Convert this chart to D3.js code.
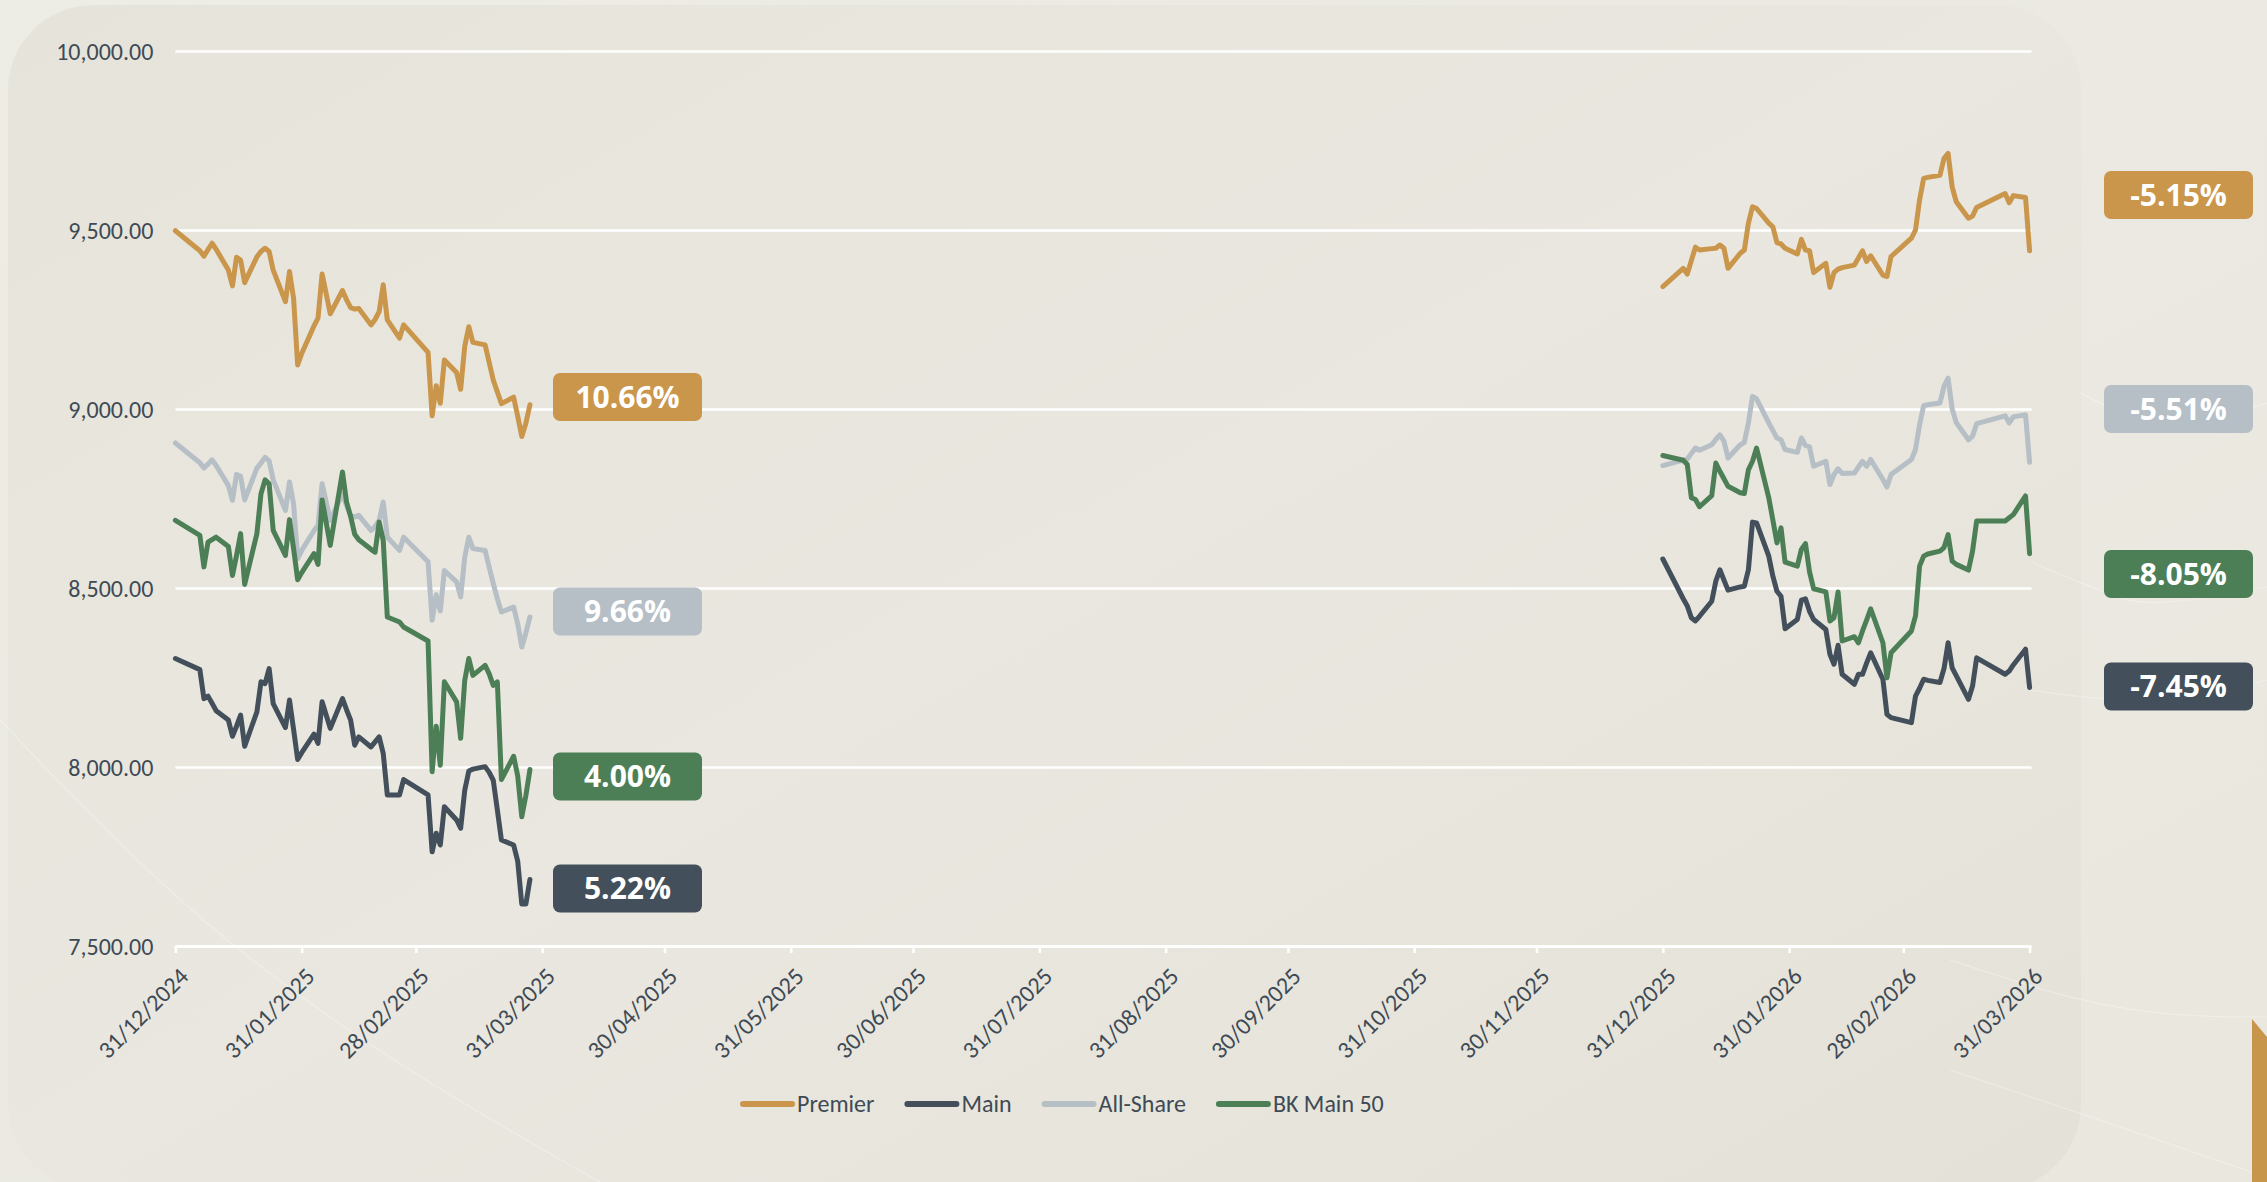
<!DOCTYPE html>
<html>
<head>
<meta charset="utf-8">
<script src="https://cdn.jsdelivr.net/npm/d3@7"></script>
<style>
html,body{margin:0;padding:0;background:#ecebe4;overflow:hidden;}
svg{display:block;}
</style>
</head>
<body>
<svg id="chart" width="2267" height="1182"></svg>
<script>
// ---------------- DATA ----------------
const seriesNames = ["Premier", "Main", "All-Share", "BK Main 50"];
const yTickValues = [7500, 8000, 8500, 9000, 9500, 10000];
const xTickDates = ["2024-12-31","2025-01-31","2025-02-28","2025-03-31","2025-04-30","2025-05-31","2025-06-30","2025-07-31","2025-08-31","2025-09-30","2025-10-31","2025-11-30","2025-12-31","2026-01-31","2026-02-28","2026-03-31"];

const dates2025 = ["2024-12-31","2025-01-06","2025-01-07","2025-01-08","2025-01-09","2025-01-10","2025-01-13","2025-01-14","2025-01-15","2025-01-16","2025-01-17","2025-01-20","2025-01-21","2025-01-22","2025-01-23","2025-01-24","2025-01-27","2025-01-28","2025-01-29","2025-01-30","2025-01-31","2025-02-03","2025-02-04","2025-02-05","2025-02-06","2025-02-07","2025-02-10","2025-02-11","2025-02-12","2025-02-13","2025-02-14","2025-02-17","2025-02-18","2025-02-19","2025-02-20","2025-02-21","2025-02-24","2025-02-25","2025-03-03","2025-03-04","2025-03-05","2025-03-06","2025-03-07","2025-03-10","2025-03-11","2025-03-12","2025-03-13","2025-03-14","2025-03-17","2025-03-18","2025-03-19","2025-03-20","2025-03-21","2025-03-24","2025-03-25","2025-03-26","2025-03-27","2025-03-28"];
const premier2025 = [9498,9442,9427,9445,9463,9446,9388,9344,9424,9416,9353,9425,9440,9449,9440,9388,9300,9384,9309,9123,9155,9232,9254,9377,9322,9266,9331,9305,9283,9279,9281,9235,9250,9272,9347,9249,9198,9235,9158,8981,9065,9016,9137,9102,9055,9175,9230,9186,9179,9130,9081,9048,9015,9033,8980,8923,8960,9012];
const main2025 = [8303,8272,8191,8198,8178,8157,8131,8086,8114,8145,8058,8154,8238,8233,8275,8177,8110,8187,8105,8021,8040,8092,8066,8182,8145,8108,8191,8160,8131,8061,8084,8056,8070,8084,8038,7922,7922,7965,7922,7763,7815,7782,7889,7852,7829,7935,7989,7994,8001,7985,7963,7880,7796,7782,7737,7617,7617,7686];
const allShare2025 = [8905,8850,8835,8846,8858,8842,8786,8745,8817,8812,8746,8835,8849,8865,8855,8802,8717,8796,8735,8582,8605,8660,8675,8791,8740,8689,8763,8730,8702,8698,8703,8661,8672,8689,8740,8642,8605,8642,8573,8410,8481,8436,8549,8517,8475,8586,8642,8610,8605,8558,8512,8470,8433,8447,8400,8335,8375,8419];
const bkMain2025 = [8689,8647,8559,8628,8635,8642,8616,8535,8591,8652,8510,8652,8763,8802,8791,8661,8591,8691,8610,8523,8543,8596,8566,8746,8683,8619,8824,8740,8700,8650,8635,8608,8600,8684,8633,8419,8405,8391,8352,7987,8114,8005,8238,8182,8080,8242,8303,8256,8284,8260,8228,8238,7965,8030,7975,7861,7920,7993];

const dates2026 = ["2025-12-31","2026-01-05","2026-01-06","2026-01-07","2026-01-08","2026-01-09","2026-01-12","2026-01-13","2026-01-14","2026-01-15","2026-01-16","2026-01-19","2026-01-20","2026-01-21","2026-01-22","2026-01-23","2026-01-26","2026-01-27","2026-01-28","2026-01-29","2026-01-30","2026-02-02","2026-02-03","2026-02-04","2026-02-05","2026-02-06","2026-02-09","2026-02-10","2026-02-11","2026-02-12","2026-02-13","2026-02-16","2026-02-17","2026-02-18","2026-02-19","2026-02-20","2026-02-23","2026-02-24","2026-02-25","2026-03-02","2026-03-03","2026-03-04","2026-03-05","2026-03-06","2026-03-09","2026-03-10","2026-03-11","2026-03-12","2026-03-13","2026-03-16","2026-03-17","2026-03-18","2026-03-25","2026-03-26","2026-03-27","2026-03-30","2026-03-31"];
const premier2026 = [9342,9393,9377,9415,9452,9444,9448,9449,9458,9449,9393,9435,9444,9519,9565,9560,9519,9509,9465,9461,9449,9433,9474,9444,9442,9381,9407,9340,9381,9391,9395,9402,9422,9442,9412,9428,9374,9370,9426,9477,9500,9584,9644,9647,9653,9700,9714,9620,9579,9533,9539,9563,9602,9576,9596,9591,9442];
const main2026 = [8581,8470,8450,8417,8408,8421,8463,8519,8551,8522,8494,8503,8505,8551,8684,8682,8589,8533,8491,8477,8386,8412,8466,8470,8435,8412,8384,8315,8287,8340,8259,8231,8259,8259,8290,8319,8245,8147,8138,8124,8198,8220,8245,8242,8236,8275,8347,8277,8255,8189,8226,8305,8259,8268,8285,8329,8222];
const allShare2026 = [8842,8857,8860,8876,8891,8885,8900,8915,8928,8910,8863,8900,8907,8961,9035,9028,8961,8940,8919,8914,8887,8879,8919,8898,8894,8840,8854,8789,8817,8833,8820,8821,8838,8854,8840,8859,8803,8782,8817,8859,8887,8956,9009,9012,9017,9063,9086,9000,8962,8914,8924,8959,8981,8961,8978,8984,8851];
const bkMain2026 = [8870,8857,8845,8752,8747,8727,8758,8849,8826,8805,8784,8766,8764,8830,8854,8891,8752,8690,8626,8668,8572,8561,8608,8624,8545,8498,8489,8408,8417,8489,8352,8364,8347,8380,8410,8442,8347,8249,8319,8380,8422,8561,8589,8595,8603,8613,8649,8575,8566,8550,8603,8687,8687,8696,8705,8757,8596];

const labels2025 = ["10.66%", "5.22%", "9.66%", "4.00%"];   // Premier, Main, All-Share, BK Main 50
const labels2026 = ["-5.15%", "-7.45%", "-5.51%", "-8.05%"];

// ---------------- STYLE / LAYOUT ----------------
const colors = ["#c9964b", "#434f5a", "#b6bec6", "#4d7f57"];
const textColor = "#3e4a55";
const fontAxis = "Calibri, Carlito, Roboto, sans-serif";
const W = 2267, H = 1182;
const plot = {left: 175.4, right: 2029.6, top: 51, bottom: 946};
const leftBoxX = 553, rightBoxX = 2104, boxW = 149, boxH = 48;
const leftBoxY = [397, 888.5, 611.5, 776.5];
const rightBoxY = [195, 686.5, 409, 574];

const svg = d3.select("#chart");
const parse = d3.utcParse("%Y-%m-%d");
const x = d3.scaleUtc().domain([parse("2024-12-31"), parse("2026-03-31")]).range([plot.left, plot.right]);
const y = d3.scaleLinear().domain([7500, 10000]).range([plot.bottom, plot.top]);

// ---------------- BACKGROUND ----------------
const defs = svg.append("defs");
const g1 = defs.append("linearGradient").attr("id","panelGrad").attr("x1","0").attr("y1","0").attr("x2","1").attr("y2","1");
g1.append("stop").attr("offset","0").attr("stop-color","#e6e4da");
g1.append("stop").attr("offset","0.5").attr("stop-color","#e9e7df");
g1.append("stop").attr("offset","1").attr("stop-color","#e4e2d8");
const g2 = defs.append("linearGradient").attr("id","bgGrad").attr("x1","0").attr("y1","0").attr("x2","1").attr("y2","1");
g2.append("stop").attr("offset","0").attr("stop-color","#edece5");
g2.append("stop").attr("offset","1").attr("stop-color","#e9e7de");

svg.append("rect").attr("width", W).attr("height", H).attr("fill", "url(#bgGrad)");
svg.append("rect").attr("x", 8).attr("y", 5).attr("width", 2073).attr("height", 1185)
  .attr("rx", 85).attr("ry", 85).attr("fill", "url(#panelGrad)");

// faint decorative curves
const deco = [
  [[0,720],[200,930],[420,1080],[600,1182]],
  [[1950,960],[2080,1003],[2180,1017],[2267,1017]],
  [[1950,1070],[2100,1120],[2252,1172]],
  [[2080,393],[2166,436],[2267,403]],
  [[2033,563],[2110,595],[2150,608],[2267,587]],
  [[2030,690],[2100,700],[2180,701],[2267,680]]
];
const decoLine = d3.line().curve(d3.curveBasis);
svg.append("g").selectAll("path").data(deco).join("path")
  .attr("d", decoLine).attr("fill","none").attr("stroke","#ffffff").attr("stroke-opacity",0.3).attr("stroke-width",1.2);

// gold corner shape
svg.append("path").attr("d", "M2252,1019 L2267,1037 L2267,1182 L2252,1182 Z").attr("fill", "#c8964b");

// ---------------- AXES ----------------
const fmtY = d3.format(",.2f");
const yAxis = d3.axisLeft(y).tickValues(yTickValues).tickFormat(fmtY)
  .tickSize(-(plot.right - plot.left + 2)).tickPadding(22);
const gy = svg.append("g").attr("transform", `translate(${plot.left},0)`).call(yAxis);
gy.select(".domain").remove();
gy.selectAll(".tick line").attr("stroke", "#ffffff").attr("stroke-width", 2.5);
gy.selectAll(".tick text").attr("fill", textColor).attr("font-family", fontAxis)
  .attr("font-size", 24).attr("dy", "0.35em");

const fmtX = d3.utcFormat("%d/%m/%Y");
const xAxis = d3.axisBottom(x).tickValues(xTickDates.map(parse)).tickFormat(fmtX).tickSize(7).tickSizeOuter(0);
const gx = svg.append("g").attr("transform", `translate(0,${plot.bottom})`).call(xAxis);
gx.select(".domain").attr("stroke", "#ffffff").attr("stroke-width", 2.5);
gx.selectAll(".tick line").attr("stroke", "#ffffff").attr("stroke-width", 2.5);
gx.selectAll(".tick text").attr("fill", textColor).attr("font-family", fontAxis)
  .attr("font-size", 24).attr("y", 0).attr("dy", 0).attr("text-anchor", "end")
  .attr("transform", "translate(14,32) rotate(-45)");

// ---------------- LINES ----------------
const line = d3.line().x(d => x(d.date)).y(d => y(d.value));
function seg(dates, vals) { return dates.map((d, i) => ({date: parse(d), value: vals[i]})); }
const seriesData = [
  [seg(dates2025, premier2025), seg(dates2026, premier2026)],
  [seg(dates2025, main2025), seg(dates2026, main2026)],
  [seg(dates2025, allShare2025), seg(dates2026, allShare2026)],
  [seg(dates2025, bkMain2025), seg(dates2026, bkMain2026)]
];
const gl = svg.append("g");
seriesData.forEach((segs, si) => {
  segs.forEach(s => {
    gl.append("path").datum(s).attr("d", line).attr("fill", "none")
      .attr("stroke", colors[si]).attr("stroke-width", 5)
      .attr("stroke-linejoin", "round").attr("stroke-linecap", "round");
  });
});

// ---------------- VALUE LABELS ----------------
function drawBox(bx, cy, txt, col) {
  const g = svg.append("g");
  g.append("rect").attr("x", bx).attr("y", cy - boxH / 2).attr("width", boxW).attr("height", boxH)
    .attr("rx", 7).attr("ry", 7).attr("fill", col);
  g.append("text").attr("x", bx + boxW / 2).attr("y", cy).attr("dy", "0.36em")
    .attr("text-anchor", "middle").attr("fill", "#ffffff")
    .attr("font-family", "'Open Sans', sans-serif").attr("font-weight", 700).attr("font-size", 30)
    .text(txt);
}
labels2025.forEach((t, i) => drawBox(leftBoxX, leftBoxY[i], t, colors[i]));
labels2026.forEach((t, i) => drawBox(rightBoxX, rightBoxY[i], t, colors[i]));

// ---------------- LEGEND ----------------
const lg = svg.append("g").attr("transform", "translate(740,1104)");
let cx = 0;
seriesNames.forEach((name, i) => {
  const it = lg.append("g").attr("transform", `translate(${cx},0)`);
  it.append("line").attr("x1", 3).attr("x2", 52).attr("y1", 0).attr("y2", 0)
    .attr("stroke", colors[i]).attr("stroke-width", 6).attr("stroke-linecap", "round");
  const t = it.append("text").attr("x", 57).attr("y", 0).attr("dy", "0.35em")
    .attr("fill", textColor).attr("font-family", fontAxis).attr("font-size", 24).text(name);
  cx += 57 + t.node().getComputedTextLength() + 30;
});
</script>
</body>
</html>
